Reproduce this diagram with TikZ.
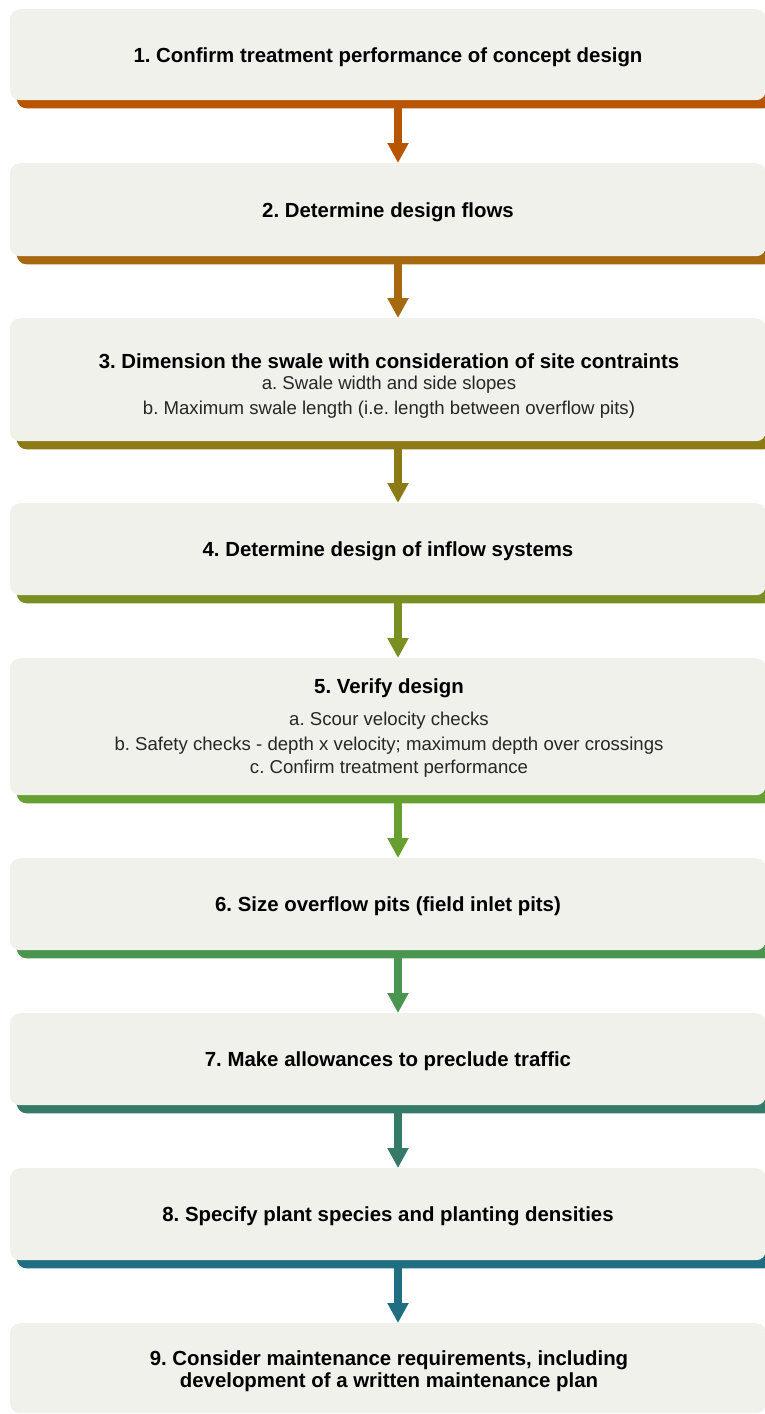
\documentclass[tikz,border=0pt]{standalone}
\usepackage{fontspec}
\setmainfont{Liberation Sans}
\frenchspacing
\usetikzlibrary{arrows.meta,backgrounds}
\definecolor{boxfill}{HTML}{F1F1EC}
\definecolor{c1}{HTML}{B85500}
\definecolor{c2}{HTML}{A6690F}
\definecolor{c3}{HTML}{8C7A17}
\definecolor{c4}{HTML}{7A8F22}
\definecolor{c5}{HTML}{67A030}
\definecolor{c6}{HTML}{4A9550}
\definecolor{c7}{HTML}{357A68}
\definecolor{c8}{HTML}{1F6E82}
\tikzset{
  stepbox/.style={fill=boxfill, rounded corners=10pt, minimum width=756pt, inner sep=0pt,
    font=\bfseries\fontsize{20.4}{22}\selectfont, align=center, anchor=north, text depth=0pt},
  flowarrow/.style={line width=8pt, -{Triangle[width=20pt,length=20pt]}},
  titletext/.style={font=\bfseries\fontsize{20.4}{22}\selectfont, inner sep=0pt, align=center},
  subtext/.style={font=\fontsize{18.6}{20}\selectfont, inner sep=0pt, text=black!85},
}
\newcommand{\stepshadow}[2]{\fill[#2, rounded corners=10pt] ([shift={(7pt,-8pt)}]#1.north west) rectangle ([shift={(7pt,-8pt)}]#1.south east);}
\begin{document}
\begin{tikzpicture}[x=1pt,y=-1pt]
\useasboundingbox (0,0) rectangle (764,1414);
\node[stepbox, minimum height=91pt] (b1) at (388,9) {1. Confirm treatment performance of concept design};
\node[stepbox, minimum height=93pt] (b2) at (388,163) {2. Determine design flows};
\node[stepbox, minimum height=123pt] (b3) at (388,318) {};
\node[stepbox, minimum height=92pt] (b4) at (388,503) {4. Determine design of inflow systems};
\node[stepbox, minimum height=137pt] (b5) at (388,658) {};
\node[stepbox, minimum height=92pt] (b6) at (388,858) {6. Size overflow pits (field inlet pits)};
\node[stepbox, minimum height=92pt] (b7) at (388,1013) {7. Make allowances to preclude traffic};
\node[stepbox, minimum height=92pt] (b8) at (388,1168) {8. Specify plant species and planting densities};
\node[stepbox, minimum height=90pt] (b9) at (388,1323) {};

\node[titletext] (t3) at (389,361) {3. Dimension the swale with consideration of site contraints};
\node[subtext] (t3a) at (389,385) {a. Swale width and side slopes};
\node[subtext] (t3b) at (389,410) {b. Maximum swale length (i.e. length between overflow pits)};

\node[titletext] (t5) at (389,688) {5. Verify design};
\node[subtext] (t5a) at (389,721) {a. Scour velocity checks};
\node[subtext] (t5b) at (389,746) {b. Safety checks - depth x velocity; maximum depth over crossings};
\node[subtext] (t5c) at (389,769) {c. Confirm treatment performance};

\node[titletext] (t9) at (389,1371) {9. Consider maintenance requirements, including\\development of a written maintenance plan};

\begin{scope}[on background layer]
\stepshadow{b1}{c1}
\stepshadow{b2}{c2}
\stepshadow{b3}{c3}
\stepshadow{b4}{c4}
\stepshadow{b5}{c5}
\stepshadow{b6}{c6}
\stepshadow{b7}{c7}
\stepshadow{b8}{c8}
\end{scope}

\draw[flowarrow, c1] ([xshift=10pt,yshift=-8pt]b1.south) -- ([xshift=10pt]b2.north);
\draw[flowarrow, c2] ([xshift=10pt,yshift=-8pt]b2.south) -- ([xshift=10pt]b3.north);
\draw[flowarrow, c3] ([xshift=10pt,yshift=-8pt]b3.south) -- ([xshift=10pt]b4.north);
\draw[flowarrow, c4] ([xshift=10pt,yshift=-8pt]b4.south) -- ([xshift=10pt]b5.north);
\draw[flowarrow, c5] ([xshift=10pt,yshift=-8pt]b5.south) -- ([xshift=10pt]b6.north);
\draw[flowarrow, c6] ([xshift=10pt,yshift=-8pt]b6.south) -- ([xshift=10pt]b7.north);
\draw[flowarrow, c7] ([xshift=10pt,yshift=-8pt]b7.south) -- ([xshift=10pt]b8.north);
\draw[flowarrow, c8] ([xshift=10pt,yshift=-8pt]b8.south) -- ([xshift=10pt]b9.north);
\end{tikzpicture}
\end{document}
